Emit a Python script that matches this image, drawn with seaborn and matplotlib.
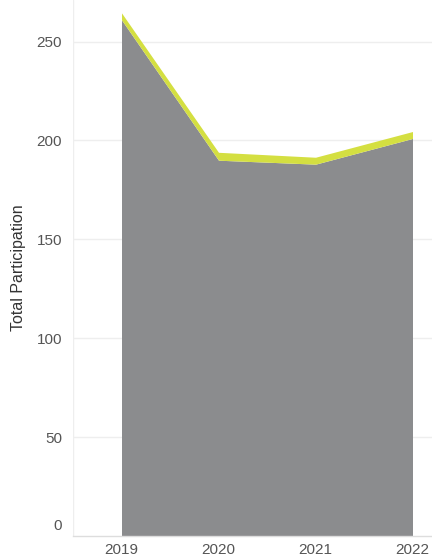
import matplotlib

matplotlib.use("Agg")

import matplotlib.pyplot as plt
import matplotlib.transforms as mtransforms
import numpy as np
import pandas as pd
import seaborn as sns

years = ["2019", "2020", "2021", "2022"]
base_participation = [261, 190, 188, 201]
top_participation = [3.5, 4, 3.5, 3.5]
y_ticks = [0, 50, 100, 150, 200, 250]

GREY = "#8b8c8e"
LIME = "#d4df41"
TEXT = "#555555"
GRID = "#eeeeee"

sns.set_theme(style="white")
plt.rcParams["font.family"] = ["Liberation Sans", "DejaVu Sans"]

df = pd.DataFrame({"year": years, "base": base_participation, "top": top_participation})
pos = np.arange(len(df))

fig = plt.figure(figsize=(4.32, 5.57), dpi=100)
ax = fig.add_axes([73 / 432, 21 / 557, 388 / 432, 536 / 557])

ax.stackplot(pos, df["base"], df["top"], colors=[GREY, LIME], linewidth=0, zorder=2)

ax.set_xlim(-0.5, len(df) - 0.5)
ax.set_ylim(0, 271)
ax.set_yticks(y_ticks)
ax.set_yticklabels([str(t) for t in y_ticks], color=TEXT, fontsize=11)
ax.set_xticks(pos)
ax.set_xticklabels(df["year"], color=TEXT, fontsize=11)
ax.set_xticks(np.arange(-0.5, len(df) - 0.5), minor=True)
ax.tick_params(axis="x", which="major", length=0, pad=5)
ax.tick_params(axis="x", which="minor", length=7, color="#dddddd", width=1)
ax.tick_params(axis="y", length=0, pad=8)

# the zero label sits a little above the baseline
zero_label = ax.yaxis.get_major_ticks()[0].label1
zero_label.set_transform(zero_label.get_transform()
                         + mtransforms.ScaledTranslation(0, 12 / 100, fig.dpi_scale_trans))

for t in y_ticks[1:]:
    ax.axhline(t, color=GRID, linewidth=1, zorder=1)
ax.axvline(-0.5, color=GRID, linewidth=1, zorder=1)

for side in ["top", "right", "left"]:
    ax.spines[side].set_visible(False)
ax.spines["bottom"].set_color("#dddddd")
ax.spines["bottom"].set_linewidth(1)

ax.set_ylabel("Total Participation", color="#333333", fontsize=11.5)
ax.yaxis.set_label_coords(-0.122, 0.5)

fig.savefig("out.png", dpi=100, facecolor="white")
plt.close(fig)
